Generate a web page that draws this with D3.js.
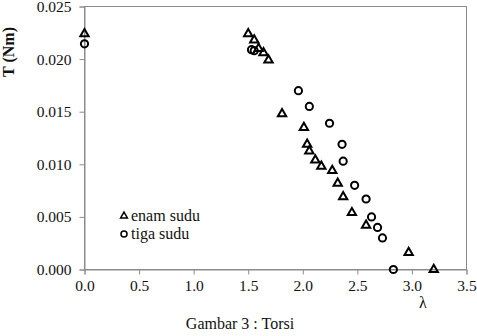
<!DOCTYPE html>
<html><head><meta charset="utf-8">
<script src="https://cdn.jsdelivr.net/npm/d3@7"></script>
<style>
body{margin:0;background:#fff;}
svg{display:block;font-family:"Liberation Serif","Times New Roman",serif;}
</style></head>
<body>
<svg id="c" width="477" height="336"></svg>
<script>
const enamX = [0.0, 1.50, 1.555, 1.595, 1.64, 1.686, 1.81, 2.01, 2.04, 2.06, 2.115, 2.17, 2.27, 2.32, 2.37, 2.45, 2.58, 2.97, 3.20];
const enamT = [0.0224, 0.0224, 0.0218, 0.0210, 0.0206, 0.0199, 0.0148, 0.0135, 0.0119, 0.01125, 0.0104, 0.0098, 0.0094, 0.0082, 0.0069, 0.0054, 0.0042, 0.0016, 0.0];
const tigaX = [0.0, 1.53, 1.555, 1.96, 2.06, 2.245, 2.36, 2.37, 2.475, 2.58, 2.63, 2.685, 2.73, 2.83];
const tigaT = [0.02145, 0.0209, 0.0208, 0.0170, 0.0155, 0.0139, 0.0119, 0.0103, 0.0080, 0.0067, 0.0050, 0.0040, 0.0030, 0.0];
const xTicks = [0, 0.5, 1.0, 1.5, 2.0, 2.5, 3.0, 3.5];
const yTicks = [0, 0.005, 0.010, 0.015, 0.020, 0.025];
const seriesNames = ["enam sudu", "tiga sudu"];

const svg = d3.select("#c");
const L = 84.5, R = 466.5, T = 6.5, B = 269.5;
const x = d3.scaleLinear().domain([0, 3.5]).range([L, R]);
const y = d3.scaleLinear().domain([0, 0.025]).range([B, T]);
const grey = "#8c8c8c";
const serif = '"Liberation Serif", "Times New Roman", serif';

// frame
svg.append("rect").attr("x", L).attr("y", T).attr("width", R - L).attr("height", B - T)
  .attr("fill", "none").attr("stroke", grey).attr("stroke-width", 1);

const xAxis = svg.append("g").attr("transform", `translate(0,${B})`)
  .call(d3.axisBottom(x).tickValues(xTicks).tickFormat(d3.format(".1f")).tickSize(5).tickPadding(5));
const yAxis = svg.append("g").attr("transform", `translate(${L},0)`)
  .call(d3.axisLeft(y).tickValues(yTicks).tickFormat(d3.format(".3f")).tickSize(5).tickPadding(8));
[xAxis, yAxis].forEach(g => {
  g.attr("font-family", null).attr("font-size", null);
  g.select(".domain").attr("stroke", grey);
  g.selectAll(".tick line").attr("stroke", grey);
  g.selectAll(".tick text").style("font-family", serif).style("font-size", "15.5px").attr("fill", "#111");
});

// axis labels
svg.append("text").attr("transform", "translate(14,52) rotate(-90)").attr("text-anchor", "middle")
  .style("font-family", serif).style("font-size", "16px").attr("font-weight", "bold").attr("fill", "#111").text("T (Nm)");
svg.append("text").attr("x", 423).attr("y", 308).attr("text-anchor", "middle")
  .style("font-family", serif).style("font-size", "16px").attr("fill", "#111").text("λ");
svg.append("text").attr("x", 240).attr("y", 329).attr("text-anchor", "middle")
  .style("font-family", serif).style("font-size", "16px").attr("fill", "#111").text("Gambar 3 : Torsi");

const tri = d3.symbol().type(d3.symbolTriangle).size(30);
const enam = enamX.map((v, i) => ({x: v, t: enamT[i]}));
const tiga = tigaX.map((v, i) => ({x: v, t: tigaT[i]}));

svg.append("g").selectAll("path").data(enam).join("path")
  .attr("d", tri).attr("transform", d => `translate(${x(d.x)},${y(d.t)})`)
  .attr("fill", "none").attr("stroke", "#000").attr("stroke-width", 2);
svg.append("g").selectAll("circle").data(tiga).join("circle")
  .attr("cx", d => x(d.x)).attr("cy", d => y(d.t)).attr("r", 3.6)
  .attr("fill", "none").attr("stroke", "#000").attr("stroke-width", 2);

// legend
const lg = svg.append("g");
lg.append("path").attr("d", d3.symbol().type(d3.symbolTriangle).size(20)())
  .attr("transform", "translate(124,216)").attr("fill", "none").attr("stroke", "#000").attr("stroke-width", 1.5);
lg.append("circle").attr("cx", 124).attr("cy", 234).attr("r", 3)
  .attr("fill", "none").attr("stroke", "#000").attr("stroke-width", 1.5);
lg.append("text").attr("x", 131).attr("y", 221).style("font-family", serif).style("font-size", "16px").attr("fill", "#111").text(seriesNames[0]);
lg.append("text").attr("x", 131).attr("y", 239).style("font-family", serif).style("font-size", "16px").attr("fill", "#111").text(seriesNames[1]);
</script>
</body></html>
